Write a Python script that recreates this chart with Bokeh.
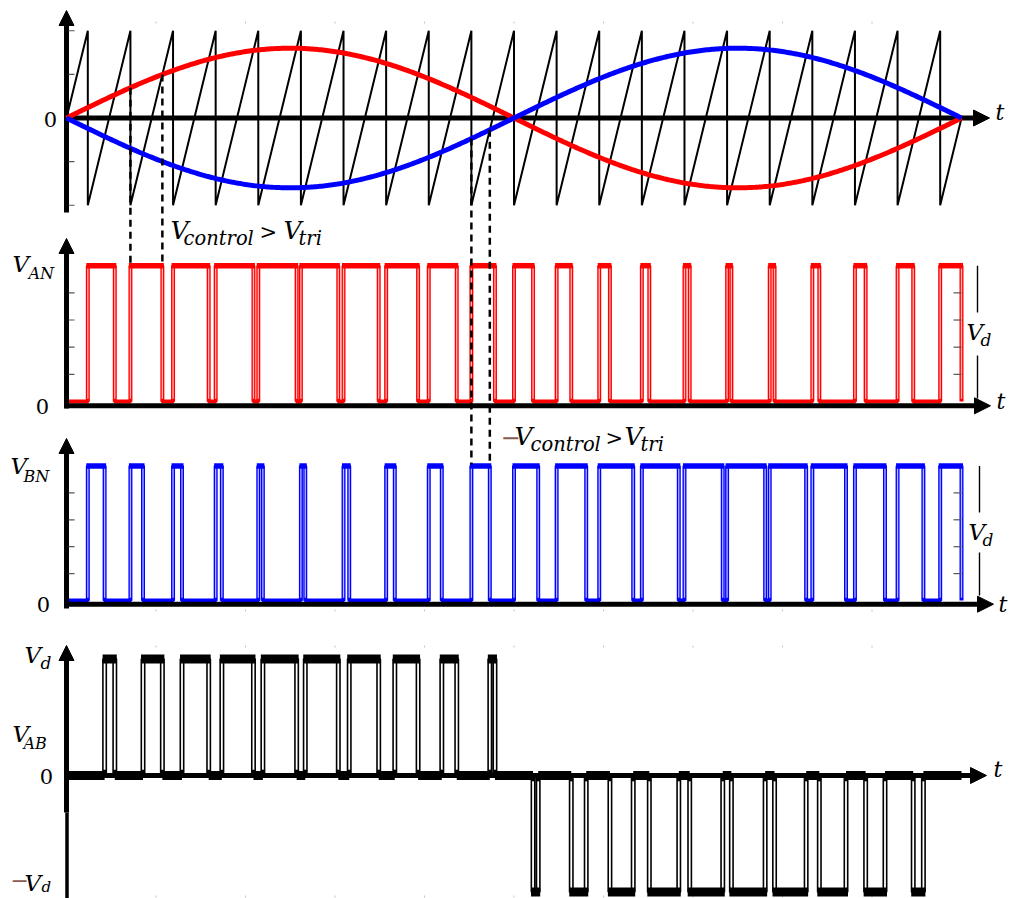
import numpy as np
from bokeh.plotting import figure
from bokeh.models import Range1d, Label
from bokeh.embed import file_html
from bokeh.resources import INLINE

# ---- modulation settings -------------------------------------------------
CARRIER_RATIO = 21        # sawtooth periods in one fundamental period
MOD_INDEX = 0.8           # control peak relative to the carrier peak
VAN_MARKED_PULSE = 1      # pulse of v_AN whose edges are marked
VBN_MARKED_PULSE = 9      # pulse of v_BN whose edges are marked

CARRIER_TICKS = [-1.0, -0.5, 0.5, 1.0]
LEVEL_TICKS = [0.2, 0.4, 0.6, 0.8]
FRAME_TICKS = [0.1, 0.2, 0.3, 0.4, 0.5, 0.6, 0.7, 0.8, 0.9]

# ---- page geometry: x in fundamental periods, one y scale per panel -------
X_ORIGIN, X_SPAN = 66.0, 895.0
PANELS = {
    "default": dict(y0=117.5, unit=87.25),   # carrier and control signals
    "van": dict(y0=401.0, unit=135.8),
    "vbn": dict(y0=600.0, unit=134.5),
    "vab": dict(y0=775.0, unit=116.5),
}
W, H = 1009, 898
FONT = "DejaVu Serif"


def X(px):
    return (px - X_ORIGIN) / X_SPAN


def Y(panel, py):
    g = PANELS[panel]
    return (g["y0"] - py) / g["unit"]


# ---- signals ---------------------------------------------------------------
def control(t):
    return MOD_INDEX * np.sin(2 * np.pi * t)


drops = (np.arange(CARRIER_RATIO) + 0.5) / CARRIER_RATIO   # carrier resets


def pulse_end(k, sign):
    """Instant in carrier period k where the ramp overtakes sign*control."""
    lo, hi = drops[k], drops[k + 1]
    for _ in range(60):
        mid = 0.5 * (lo + hi)
        ramp = -1 + 2 * CARRIER_RATIO * (mid - drops[k])
        if ramp < sign * control(mid):
            lo = mid
        else:
            hi = mid
    return 0.5 * (lo + hi)


van_end = [pulse_end(k, +1) for k in range(CARRIER_RATIO - 1)] + [1.0]
vbn_end = [pulse_end(k, -1) for k in range(CARRIER_RATIO - 1)] + [1.0]

# v_AB = v_AN - v_BN
vab_pulses = []
for k in range(CARRIER_RATIO):
    a, b = van_end[k], vbn_end[k]
    if abs(a - b) < 1e-9:
        continue
    vab_pulses.append((b, a, 1.0) if a > b else (a, b, -1.0))

# ---- figure ----------------------------------------------------------------
p = figure(width=W, height=H,
           x_range=Range1d(X(0), X(W)),
           y_range=Range1d(Y("default", H), Y("default", 0)),
           x_axis_location=None, y_axis_location=None,
           toolbar_location=None, output_backend="svg",
           min_border=0, outline_line_color=None,
           background_fill_color="white", border_fill_color="white")
p.grid.grid_line_color = None
p.extra_y_ranges = {name: Range1d(Y(name, H), Y(name, 0))
                    for name in PANELS if name != "default"}


def seg(panel, x0, y0, x1, y1, **kw):
    p.segment(x0=list(x0), y0=list(y0), x1=list(x1), y1=list(y1),
              y_range_name=panel, **kw)


def axes(panel, x_axis_py, x_tip, y_tip, y_bottom, y_width=5):
    # horizontal axis with arrow
    seg(panel, [X(64)], [Y(panel, x_axis_py)], [X(x_tip - 14)],
        [Y(panel, x_axis_py)], line_width=5, line_color="black")
    p.patch([X(x_tip), X(x_tip - 16), X(x_tip - 16)],
            [Y(panel, x_axis_py), Y(panel, x_axis_py - 8), Y(panel, x_axis_py + 8)],
            fill_color="black", line_color="black", y_range_name=panel)
    # vertical axis with arrow
    seg(panel, [X(66)], [Y(panel, y_tip + 13)], [X(66)], [Y(panel, y_bottom)],
        line_width=y_width, line_color="black")
    p.patch([X(66), X(58.5), X(73.5)],
            [Y(panel, y_tip), Y(panel, y_tip + 15), Y(panel, y_tip + 15)],
            fill_color="black", line_color="black", y_range_name=panel)


def inner_ticks(panel, levels, x_from, x_to, color="#555555"):
    seg(panel, [X(x_from)] * len(levels), levels, [X(x_to)] * len(levels),
        levels, line_width=1.2, line_color=color)


def frame_ticks(panel, py):
    xs = FRAME_TICKS
    seg(panel, xs, [Y(panel, py - 1)] * len(xs), xs, [Y(panel, py + 1)] * len(xs),
        line_width=1, line_color="#c4c4c4")


def label(panel, px, py, text, size, italic=True, color="black", align="left"):
    # py is the wanted baseline; the renderer places glyphs about 0.28 em lower
    base = py - 0.28 * size
    p.add_layout(Label(x=X(px), y=Y(panel, base), y_range_name=panel,
                       text=text, text_font=FONT,
                       text_font_style="italic" if italic else "normal",
                       text_font_size=f"{size}px", text_color=color,
                       text_align=align, text_baseline="alphabetic"))


def pulse_train(panel, starts, ends, color, core, band_w, edge_w, low_w):
    xs, ys = [0.0], [0.0]
    for s, e in zip(starts, ends):
        xs += [s, s, e, e]
        ys += [0, 1, 1, 0]
    if xs[-1] < 1.0:
        xs.append(1.0)
        ys.append(0.0)
    p.line(xs, ys, line_width=edge_w, line_color=color, y_range_name=panel)
    edges = list(starts) + list(ends)
    seg(panel, edges, [0.02] * len(edges), edges, [1.0] * len(edges),
        line_width=1.3, line_color=core)
    pad = 1.5 / X_SPAN
    seg(panel, [s - pad for s in starts], [1.0] * len(starts),
        [e + pad for e in ends], [1.0] * len(ends),
        line_width=band_w, line_color=color)
    lows_x0 = [0.0] + list(ends[:-1])
    lows_x1 = list(starts)
    seg(panel, lows_x0, [0.0] * len(lows_x0), lows_x1, [0.0] * len(lows_x1),
        line_width=low_w, line_color=color)


# ---- panel 1: sawtooth carrier and control signals -------------------------
axes("default", 117.5, 989, 10, 212)
inner_ticks("default", CARRIER_TICKS, 68, 74)
frame_ticks("default", 22)

saw_x, saw_y = [0.0], [0.0]
for d in drops:
    saw_x += [d, d]
    saw_y += [1.0, -1.0]
saw_x.append(1.0)
saw_y.append(0.0)
p.line(saw_x, saw_y, line_width=2, line_color="black")

t = np.linspace(0, 1, 500)
p.line(t, control(t), line_width=5, line_color="#ff0000")
p.line(t, -control(t), line_width=5, line_color="#0000ff")
label("default", 50, 125, "0", 21, italic=False, align="center")
label("default", 995, 118, "t", 22)

# ---- panel 2: v_AN -----------------------------------------------------------
pulse_train("van", drops, van_end, "#ff0000", "#ffb4b4", 5.5, 4, 3)
axes("van", 405.3, 990, 238, 408)
inner_ticks("van", LEVEL_TICKS, 68, 74)
inner_ticks("van", LEVEL_TICKS, 953, 961)
seg("van", [X(977), X(977)], [1.0, Y("van", 355)], [X(977), X(977)],
    [Y("van", 312), Y("van", 398)], line_width=1.4, line_color="black")
label("van", 170, 237, "V", 25)
label("van", 183, 243, "control", 19.5)
label("van", 259, 237, ">", 21, italic=False)
label("van", 283, 237, "V", 25)
label("van", 298, 243, "tri", 19.5)
label("van", 12, 270, "V", 23)
label("van", 28, 277, "AN", 16)
label("van", 42, 412, "0", 21, italic=False, align="center")
label("van", 996, 407, "t", 22)
label("van", 966, 338, "V", 23)
label("van", 980, 344, "d", 17)

# ---- panel 3: v_BN -----------------------------------------------------------
pulse_train("vbn", drops, vbn_end, "#0000ff", "#b4b4ff", 5.5, 4, 3)
axes("vbn", 603.7, 993, 438, 608)
inner_ticks("vbn", LEVEL_TICKS, 68, 74)
inner_ticks("vbn", LEVEL_TICKS, 953, 961)
frame_ticks("vbn", 610)
seg("vbn", [X(979), X(979)], [1.0, Y("vbn", 552)], [X(979), X(979)],
    [Y("vbn", 512), Y("vbn", 595)], line_width=1.4, line_color="black")
label("vbn", 500, 443, "\u2212", 24, italic=False, color="#8a5a55")
label("vbn", 514, 443, "V", 25)
label("vbn", 530, 449, "control", 19.5)
label("vbn", 605, 443, ">", 21, italic=False)
label("vbn", 624, 443, "V", 25)
label("vbn", 640, 449, "tri", 19.5)
label("vbn", 10, 472, "V", 23)
label("vbn", 23, 480, "BN", 16)
label("vbn", 43, 610, "0", 21, italic=False, align="center")
label("vbn", 998, 610, "t", 22)
label("vbn", 968, 538, "V", 23)
label("vbn", 982, 544, "d", 17)

# ---- panel 4: v_AB -----------------------------------------------------------
axes("vab", 775, 986, 645, 812)
seg("vab", [X(66.5)], [Y("vab", 812)], [X(66.5)], [Y("vab", 898)],
    line_width=3.5, line_color="black")
frame_ticks("vab", 646)
frame_ticks("vab", 896)

ab_x, ab_y = [0.0], [0.0]
zero_x0, zero_x1 = [], []
prev = 0.0
for s, e, lvl in vab_pulses:
    ab_x += [s, s, e, e]
    ab_y += [0, lvl, lvl, 0]
    zero_x0.append(prev)
    zero_x1.append(s)
    prev = e
ab_x.append(1.0)
ab_y.append(0.0)
zero_x0.append(prev)
zero_x1.append(1.0)
p.line(ab_x, ab_y, line_width=5, line_color="black", y_range_name="vab")
ab_edges = [s for s, _, _ in vab_pulses] + [e for _, e, _ in vab_pulses]
ab_lvls = [lvl for _, _, lvl in vab_pulses] * 2
seg("vab", ab_edges, [0.05 * l for l in ab_lvls], ab_edges, ab_lvls,
    line_width=1.8, line_color="white")
pad = 2.0 / X_SPAN
seg("vab", [s - pad for s, _, _ in vab_pulses], [l for _, _, l in vab_pulses],
    [e + pad for _, e, _ in vab_pulses], [l for _, _, l in vab_pulses],
    line_width=9, line_color="black")
seg("vab", zero_x0, [0.0] * len(zero_x0), zero_x1, [0.0] * len(zero_x1),
    line_width=9, line_color="black")

label("vab", 24, 661, "V", 23)
label("vab", 40, 667, "d", 17)
label("vab", 12, 740, "V", 23)
label("vab", 23, 747, "AB", 16)
label("vab", 46, 782, "0", 21, italic=False, align="center")
label("vab", 993, 775, "t", 22)
label("vab", 10, 886, "\u2212", 22, italic=False, color="#8a5a55")
label("vab", 24, 889, "V", 23)
label("vab", 41, 891, "d", 15)

# ---- dashed markers for the comparison instants ---------------------------
ta, tb = drops[VAN_MARKED_PULSE], van_end[VAN_MARKED_PULSE]
tc, td = drops[VBN_MARKED_PULSE], vbn_end[VBN_MARKED_PULSE]
seg("default", [ta, tb], [control(ta), control(tb)], [ta, tb],
    [Y("default", 263)] * 2, line_width=2.5, line_color="black", line_dash="7 5")
seg("default", [tc, td], [-control(tc), -control(td)], [tc, td],
    [Y("default", 464)] * 2, line_width=2.5, line_color="black", line_dash="7 5")

open("out.html", "w").write(file_html(p, INLINE))
